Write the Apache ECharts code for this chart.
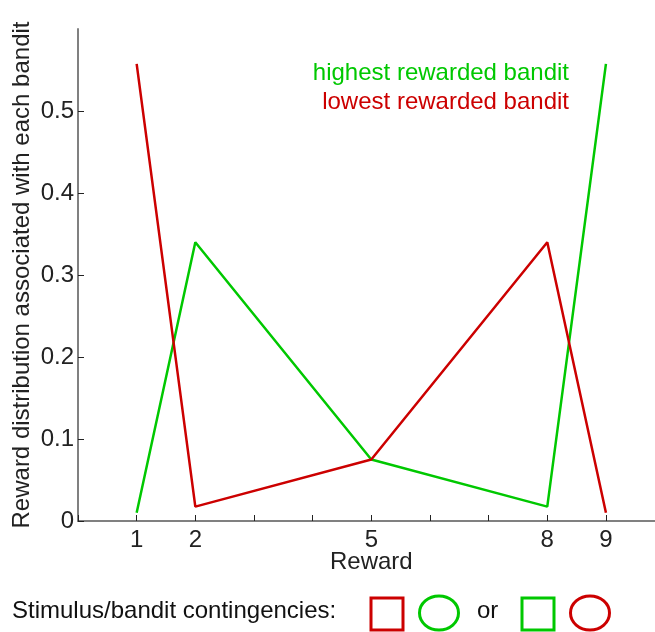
<!DOCTYPE html>
<html>
<head>
<meta charset="utf-8">
<script src="https://cdn.jsdelivr.net/npm/echarts@6/dist/echarts.min.js"></script>
<style>
  html, body { margin: 0; padding: 0; background: #fff; }
  #chart { width: 655px; height: 632px; }
</style>
</head>
<body>
<div id="chart"></div>
<script>
// Reward values on the x axis
const rewards = [1, 2, 5, 8, 9];
// Probability of each reward for the two bandits
const highestBandit = [0.01, 0.34, 0.075, 0.0175, 0.5575];
const lowestBandit = [0.5575, 0.0175, 0.075, 0.34, 0.01];
// Labelled ticks on the x axis
const labelledTicks = [1, 2, 5, 8, 9];
// Ticks on the y axis
const yTicks = [0, 0.1, 0.2, 0.3, 0.4, 0.5];

const GREEN = '#00c800';
const RED = '#cc0000';
const FONT = '"Liberation Sans", Arial, sans-serif';
const FS = 24;

const chart = echarts.init(document.getElementById('chart'));

const toPairs = (xs, ys) => xs.map((x, i) => [x, ys[i]]);

chart.setOption({
  animation: false,
  textStyle: { fontFamily: FONT },
  grid: { left: 78, right: -9.6, top: 29, bottom: 111, outerBoundsMode: 'none', containLabel: false },
  xAxis: {
    type: 'value',
    min: 0,
    max: 10,
    interval: 1,
    name: 'Reward',
    nameLocation: 'middle',
    nameGap: 29,
    nameMoveOverlap: false,
    nameTextStyle: { fontSize: FS, color: '#222', fontFamily: FONT },
    axisLine: { lineStyle: { color: '#808080', width: 2 } },
    axisTick: { inside: true, length: 6, lineStyle: { color: '#222', width: 1 } },
    axisLabel: {
      fontSize: FS,
      color: '#222',
      margin: 7,
      fontFamily: FONT,
      formatter: v => (labelledTicks.indexOf(v) >= 0 ? String(v) : '')
    },
    splitLine: { show: false }
  },
  yAxis: {
    type: 'value',
    min: 0,
    max: 0.6,
    interval: 0.1,
    name: 'Reward distribution associated with each bandit',
    nameLocation: 'middle',
    nameGap: 44,
    nameMoveOverlap: false,
    nameTextStyle: { fontSize: FS, color: '#222', fontFamily: FONT },
    axisLine: { lineStyle: { color: '#808080', width: 2 } },
    axisTick: { inside: true, length: 6, customValues: yTicks, lineStyle: { color: '#222', width: 1 } },
    axisLabel: {
      fontSize: FS,
      color: '#222',
      margin: 4,
      fontFamily: FONT,
      customValues: yTicks,
      formatter: v => (v === 0 ? '0' : String(Math.round(v * 10) / 10))
    },
    splitLine: { show: false }
  },
  series: [
    {
      name: 'highest rewarded bandit',
      type: 'line',
      data: toPairs(rewards, highestBandit),
      showSymbol: false,
      lineStyle: { color: GREEN, width: 2.5 },
      itemStyle: { color: GREEN },
      z: 2
    },
    {
      name: 'lowest rewarded bandit',
      type: 'line',
      data: toPairs(rewards, lowestBandit),
      showSymbol: false,
      lineStyle: { color: RED, width: 2.5 },
      itemStyle: { color: RED },
      z: 3
    }
  ],
  graphic: [
    {
      type: 'text', right: 86, top: 61,
      style: { text: 'highest rewarded bandit', fill: GREEN, fontSize: FS, fontFamily: FONT }
    },
    {
      type: 'text', right: 86, top: 90,
      style: { text: 'lowest rewarded bandit', fill: RED, fontSize: FS, fontFamily: FONT }
    },
    {
      type: 'text', left: 12, top: 599,
      style: { text: 'Stimulus/bandit contingencies:', fill: '#111', fontSize: FS, fontFamily: FONT }
    },
    {
      type: 'rect', shape: { x: 371, y: 598, width: 32, height: 32 },
      style: { fill: 'none', stroke: RED, lineWidth: 3 }
    },
    {
      type: 'ellipse', shape: { cx: 439, cy: 613, rx: 19.5, ry: 17 },
      style: { fill: 'none', stroke: GREEN, lineWidth: 3 }
    },
    {
      type: 'text', left: 477, top: 599,
      style: { text: 'or', fill: '#111', fontSize: FS, fontFamily: FONT }
    },
    {
      type: 'rect', shape: { x: 522, y: 598, width: 32, height: 32 },
      style: { fill: 'none', stroke: GREEN, lineWidth: 3 }
    },
    {
      type: 'ellipse', shape: { cx: 590, cy: 613, rx: 19.5, ry: 17 },
      style: { fill: 'none', stroke: RED, lineWidth: 3 }
    }
  ]
});
</script>
</body>
</html>
